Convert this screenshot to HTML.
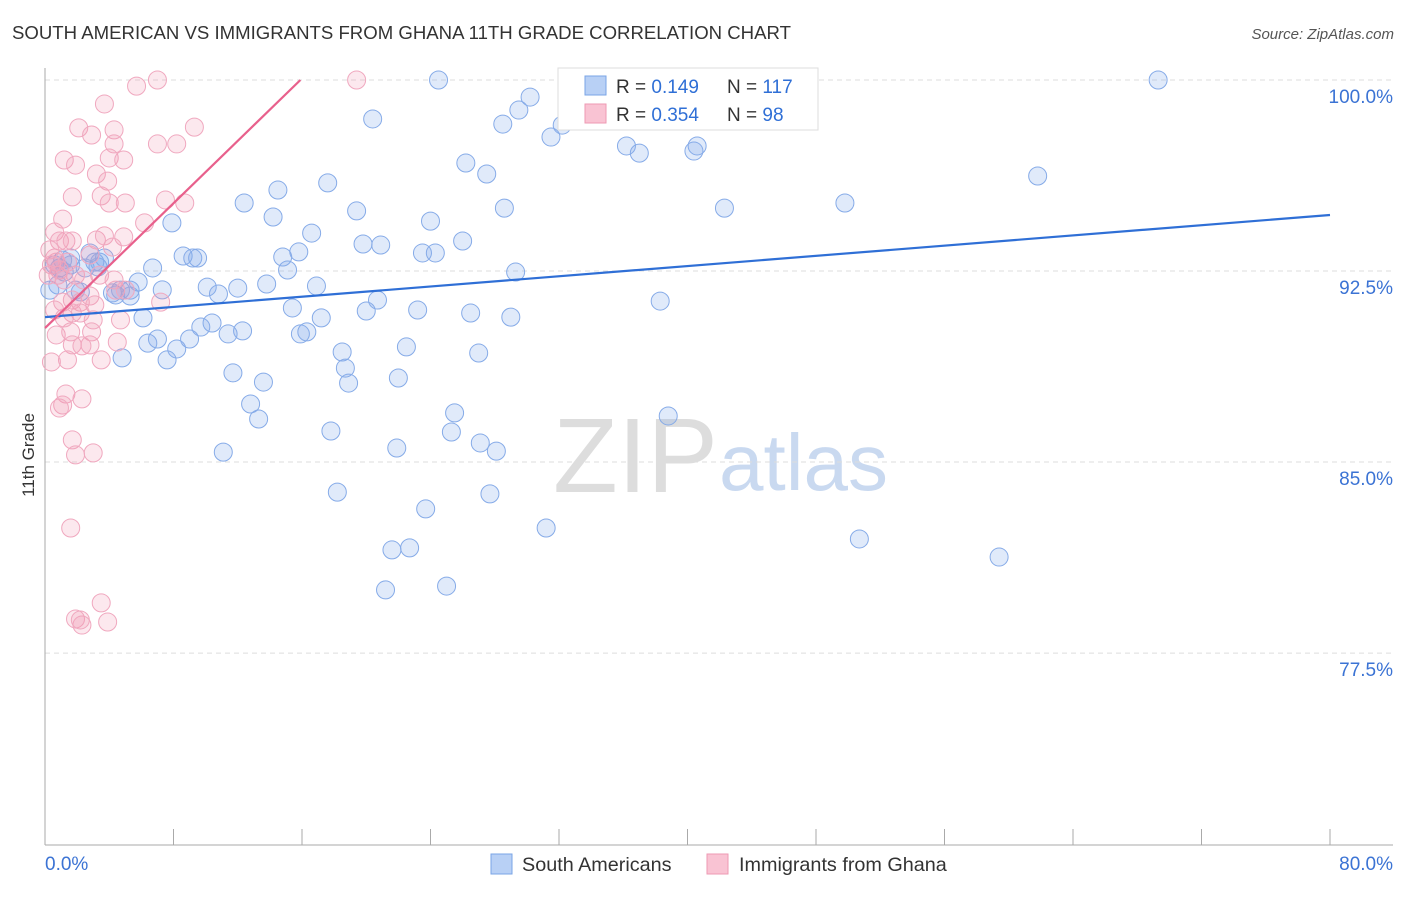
<!DOCTYPE html>
<html><head><meta charset="utf-8"><style>
body{margin:0;background:#fff;font-family:"Liberation Sans",sans-serif;}
svg text{font-family:"Liberation Sans",sans-serif;}
</style></head><body>
<svg id="c" width="1406" height="892" xmlns="http://www.w3.org/2000/svg">
<text x="12" y="39" font-size="18.6" fill="#333">SOUTH AMERICAN VS IMMIGRANTS FROM GHANA 11TH GRADE CORRELATION CHART</text>
<text x="1394" y="39" font-size="15" fill="#555" font-style="italic" text-anchor="end">Source: ZipAtlas.com</text>
<g>
<text x="553" y="492" font-size="106" fill="#ddd" font-family="Liberation Serif,serif">ZIP</text>
<text x="719" y="490" font-size="80" fill="#c9d9f0">atlas</text>
</g>
<g id="grid"></g><g id="axes"></g><g id="pts"></g><g id="lines"></g>
<g>
<rect x="558" y="68" width="260" height="62" fill="#fff" stroke="#ddd"/>
<rect x="585" y="76" width="21" height="19" fill="#b8d0f5" stroke="#7aa4e6"/>
<rect x="585" y="104" width="21" height="19" fill="#f9c3d3" stroke="#ee9ab3"/>
<text x="616" y="93" font-size="19" fill="#333">R = <tspan fill="#2f6fd6">0.149</tspan></text>
<text x="727" y="93" font-size="19" fill="#333">N = <tspan fill="#2f6fd6">117</tspan></text>
<text x="616" y="121" font-size="19" fill="#333">R = <tspan fill="#2f6fd6">0.354</tspan></text>
<text x="727" y="121" font-size="19" fill="#333">N = <tspan fill="#2f6fd6">98</tspan></text>
</g>
<g>
<rect x="491" y="854" width="21" height="20" fill="#b8d0f5" stroke="#7aa4e6"/>
<text x="522" y="871" font-size="19.8" fill="#333">South Americans</text>
<rect x="707" y="854" width="21" height="20" fill="#f9c3d3" stroke="#ee9ab3"/>
<text x="739" y="871" font-size="19.8" fill="#333">Immigrants from Ghana</text>
</g>
<text transform="translate(34,455) rotate(-90)" font-size="17" fill="#333" text-anchor="middle">11th Grade</text>
<text x="45" y="870" font-size="19" fill="#3b73d4">0.0%</text>
<text x="1393" y="870" font-size="19" fill="#3b73d4" text-anchor="end">80.0%</text>
</svg>
<script>
const yTicks=[100,92.5,85,77.5];
const yTickLabels=["100.0%","92.5%","85.0%","77.5%"];
const xTicks=[0,8,16,24,32,40,48,56,64,72,80];
const blueX=[24.5,32.6,39.4,69.3,30.2,29.5,28.5,20.4,32.2,31.5,36.2,37.0,40.6,40.4,26.2,27.5,61.8,17.6,14.5,12.4,19.4,28.6,42.3,49.8,14.2,24.0,7.9,16.6,26.0,19.8,20.9,15.8,23.5,24.3,8.6,9.2,9.5,14.8,6.7,15.1,29.3,13.8,16.9,5.8,10.1,12.0,7.3,10.8,20.7,38.3,5.3,4.2,15.4,23.2,20.0,26.5,29.0,17.2,6.1,10.4,9.7,12.3,11.4,15.9,16.3,9.0,7.0,6.4,22.5,8.2,18.5,27.0,7.6,4.8,18.7,11.7,22.0,13.6,18.9,12.8,25.5,38.8,13.3,17.8,25.3,27.1,28.1,11.1,21.9,18.2,27.7,23.7,31.2,50.7,22.7,21.6,59.4,25.0,21.2,0.6,0.9,1.2,1.6,0.8,0.3,1.9,2.2,2.8,3.1,3.4,3.7,1.6,1.1,2.5,4.4,4.7,5.3,3.3];
const blueY=[100,100,100,100,99.33,98.82,98.27,98.47,98.23,97.76,97.41,97.13,97.41,97.21,96.74,96.31,96.23,95.96,95.68,95.17,94.86,94.97,94.97,95.17,94.62,94.46,94.39,93.99,93.68,93.56,93.52,93.25,93.21,93.21,93.09,93.01,93.01,93.05,92.62,92.54,92.46,91.99,91.91,92.07,91.87,91.83,91.76,91.60,91.36,91.32,91.52,91.64,91.05,90.97,90.93,90.85,90.69,90.66,90.66,90.46,90.30,90.15,90.03,90.03,90.11,89.83,89.83,89.67,89.52,89.44,89.32,89.28,89.01,89.09,88.69,88.50,88.30,88.14,88.10,87.28,86.93,86.81,86.69,86.22,86.18,85.75,85.43,85.39,85.55,83.82,83.75,83.16,82.41,81.98,81.63,81.55,81.27,80.13,79.98,92.74,92.62,92.46,92.74,91.95,91.75,91.75,91.68,93.21,92.85,92.85,93.01,93.01,92.93,92.62,91.56,91.75,91.75,92.66];
const pinkX=[7.0,5.7,19.4,4.3,2.1,2.9,4.3,4.0,1.2,1.9,3.7,4.9,3.2,3.9,3.5,4.0,7.5,8.7,7.0,8.2,9.3,5.0,1.7,1.1,6.2,0.6,0.9,1.3,1.7,3.2,3.7,4.9,4.2,2.8,0.6,0.7,0.9,1.4,1.9,3.4,4.3,2.4,2.8,2.2,3.1,1.7,1.1,0.6,4.7,4.4,5.0,7.2,1.7,2.2,3.0,2.9,0.7,1.6,1.7,2.8,3.5,1.4,2.3,0.4,1.3,2.3,1.1,0.9,1.7,1.9,3.0,1.6,3.5,1.9,2.3,3.9,2.2,0.3,0.4,0.8,1.2,0.2,4.5,1.2];
const pinkY=[100,99.76,100,98.04,98.12,97.84,97.49,96.94,96.86,96.66,99.06,96.86,96.31,96.03,95.45,95.17,95.29,95.17,97.49,97.49,98.15,95.17,95.41,94.54,94.39,94.03,93.68,93.68,93.68,93.72,93.88,93.84,93.44,93.13,93.01,92.85,92.54,92.85,92.34,92.34,92.15,92.15,91.52,91.28,91.17,91.36,91.28,90.97,90.58,91.75,91.75,91.28,90.85,90.85,90.58,90.11,89.99,90.11,89.60,89.60,89.01,89.01,89.56,88.93,87.67,87.48,87.24,87.12,85.87,85.28,85.36,82.41,79.47,78.84,78.60,78.72,78.80,93.33,92.74,92.34,92.15,92.34,89.71,90.66];
const blueTrend=[[0,90.69],[80,94.70]];
const pinkTrend=[[0,90.26],[15.9,100]];
const NS="http://www.w3.org/2000/svg";
const X=v=>45+v/80*1285, Y=v=>80+(100-v)*25.47;
function mk(t,a,p){const e=document.createElementNS(NS,t);for(const k in a)e.setAttribute(k,a[k]);document.getElementById(p).appendChild(e);return e;}
yTicks.forEach((t,i)=>{
 const l=mk('line',{x1:45,x2:1393,y1:Y(t),y2:Y(t),stroke:'#ddd','stroke-dasharray':'5,4'},'grid');
 
 
 const tx=mk('text',{x:1393,y:Y(t)+23,'font-size':19,fill:'#3b73d4','text-anchor':'end'},'grid');
 tx.textContent=yTickLabels[i];
 
 
});
const ya=mk('line',{x1:45,x2:45,y1:68,y2:845,stroke:'#aaa'},'axes');


const xa=mk('line',{x1:45,x2:1393,y1:845,y2:845,stroke:'#aaa'},'axes');


xTicks.forEach(t=>{
 const l=mk('line',{x1:X(t),x2:X(t),y1:829,y2:845,stroke:'#aaa'},'axes');
 
 
});
blueX.forEach((v,i)=>{
 const c=mk('circle',{cx:X(v),cy:Y(blueY[i]),r:9,fill:'rgba(130,170,235,0.25)',stroke:'#86abe8','stroke-width':1},'pts');
 
 
});
pinkX.forEach((v,i)=>{
 const c=mk('circle',{cx:X(v),cy:Y(pinkY[i]),r:9,fill:'rgba(242,150,178,0.22)',stroke:'#f0a8bf','stroke-width':1},'pts');
 
 
});
const bl=mk('line',{x1:X(blueTrend[0][0]),y1:Y(blueTrend[0][1]),x2:X(blueTrend[1][0]),y2:Y(blueTrend[1][1]),stroke:'#2f6fd6','stroke-width':2.2},'lines');


const pl=mk('line',{x1:X(pinkTrend[0][0]),y1:Y(pinkTrend[0][1]),x2:X(pinkTrend[1][0]),y2:Y(pinkTrend[1][1]),stroke:'#e8608c','stroke-width':2.2},'lines');


</script>
</body></html>
